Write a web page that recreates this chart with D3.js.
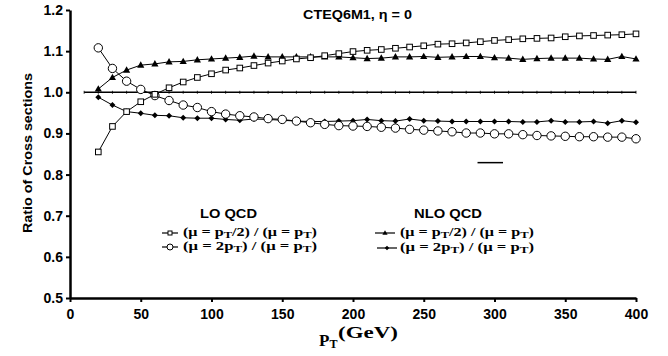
<!DOCTYPE html>
<html><head><meta charset="utf-8">
<script src="https://cdn.jsdelivr.net/npm/d3@7"></script>
<style>body{margin:0;background:#fff}</style>
</head><body>
<svg id="c" width="668" height="356"></svg>
<script>
const pt = [20,30,40,50,60,70,80,90,100,110,120,130,140,150,160,170,180,190,200,210,220,230,240,250,260,270,280,290,300,310,320,330,340,350,360,370,380,390,400];
const loHalf = [0.855,0.917,0.953,0.977,0.995,1.011,1.025,1.036,1.045,1.054,1.059,1.065,1.071,1.076,1.081,1.084,1.089,1.094,1.099,1.102,1.104,1.107,1.110,1.113,1.117,1.118,1.120,1.123,1.126,1.128,1.130,1.131,1.132,1.135,1.137,1.138,1.139,1.140,1.142];
const loTwo = [1.108,1.058,1.027,1.007,0.992,0.980,0.969,0.963,0.953,0.947,0.943,0.940,0.936,0.934,0.930,0.926,0.922,0.919,0.918,0.917,0.915,0.913,0.910,0.908,0.906,0.904,0.901,0.901,0.899,0.899,0.897,0.895,0.894,0.893,0.892,0.892,0.891,0.891,0.887];
const nloHalf = [1.008,1.036,1.054,1.066,1.069,1.074,1.075,1.079,1.081,1.083,1.085,1.088,1.086,1.086,1.086,1.086,1.086,1.086,1.084,1.082,1.083,1.086,1.086,1.087,1.085,1.086,1.087,1.087,1.084,1.083,1.080,1.082,1.083,1.083,1.083,1.081,1.080,1.087,1.081];
const nloTwo = [0.988,0.969,0.953,0.949,0.944,0.943,0.938,0.937,0.937,0.934,0.932,0.935,0.934,0.932,0.930,0.929,0.929,0.930,0.931,0.934,0.931,0.930,0.935,0.931,0.930,0.929,0.929,0.929,0.929,0.929,0.928,0.928,0.931,0.928,0.928,0.929,0.925,0.931,0.927];
const refX = [10,20,30,40,50,60,70,80,90,100,110,120,130,140,150,160,170,180,190,200,210,220,230,240,250,260,270,280,290,300,310,320,330,340,350,360,370,380,390,400];
const refY = 1.0;
const xTicks = [0,50,100,150,200,250,300,350,400];
const yTicks = [0.5,0.6,0.7,0.8,0.9,1.0,1.1,1.2];
const stray = [[288,0.829],[306,0.829]];

const svg = d3.select("#c");
const x = d3.scaleLinear().domain([0,400]).range([70,636]);
const y = d3.scaleLinear().domain([0.5,1.2]).range([298,10]);
const sans = "Arial, 'Liberation Sans', sans-serif";
const serif = "'Times New Roman', 'Liberation Serif', serif";

// axes
const ya = svg.append("g").attr("transform","translate(70,0)")
  .call(d3.axisLeft(y).tickValues(yTicks).tickFormat(d3.format(".1f")).tickSize(4).tickSizeOuter(0));
const xa = svg.append("g").attr("transform","translate(0,298)")
  .call(d3.axisBottom(x).tickValues(xTicks).tickFormat(d3.format("d")).tickSize(4).tickSizeOuter(0));
[ya,xa].forEach(a=>{
  a.select(".domain").attr("stroke","#000").attr("stroke-width",2.5);
  a.selectAll(".tick line").attr("stroke","#000").attr("stroke-width",2);
  a.selectAll(".tick text").attr("font-family",sans).attr("font-weight","bold").attr("font-size",14).attr("fill","#000");
});
ya.selectAll(".tick text").attr("x",-7);
xa.selectAll(".tick text").attr("y",11);

// reference line at 1.0
svg.append("path").datum(refX).attr("fill","none").attr("stroke","#000").attr("stroke-width",1.6)
  .attr("d",d3.line().x(d=>x(d)).y(()=>y(refY)));
svg.append("g").selectAll("line").data(refX).join("line")
  .attr("x1",d=>x(d)).attr("x2",d=>x(d)).attr("y1",y(refY)-1.5).attr("y2",y(refY)+1.5)
  .attr("stroke","#000").attr("stroke-width",0.8);

const line = d3.line().x(d=>x(d[0])).y(d=>y(d[1]));
function series(vals, marker){
  const data = pt.map((p,i)=>[p,vals[i]]);
  svg.append("path").datum(data).attr("fill","none").attr("stroke","#000").attr("stroke-width",1).attr("d",line);
  const g = svg.append("g");
  data.forEach(d=>drawMarker(g, x(d[0]), y(d[1]), marker));
}
function drawMarker(g, cx, cy, m){
  if(m==="sq") g.append("rect").attr("x",cx-2.8).attr("y",cy-2.8).attr("width",5.6).attr("height",5.6).attr("fill","#fff").attr("stroke","#000").attr("stroke-width",1);
  else if(m==="ci") g.append("circle").attr("cx",cx).attr("cy",cy).attr("r",4.2).attr("fill","#fff").attr("stroke","#000").attr("stroke-width",1);
  else if(m==="tri") g.append("path").attr("d",`M${cx},${cy-3.8}L${cx+3.6},${cy+2.6}L${cx-3.6},${cy+2.6}Z`).attr("fill","#000");
  else if(m==="dia") g.append("path").attr("d",`M${cx},${cy-3}L${cx+3},${cy}L${cx},${cy+3}L${cx-3},${cy}Z`).attr("fill","#000");
}
series(nloTwo,"dia");
series(loTwo,"ci");
series(nloHalf,"tri");
series(loHalf,"sq");

// stray segment
svg.append("path").datum(stray).attr("fill","none").attr("stroke","#000").attr("stroke-width",1.5).attr("d",line);

// title
svg.append("text").attr("x",303).attr("y",19)
  .attr("font-family",sans).attr("font-weight","bold").attr("font-size",13).attr("fill","#000")
  .attr("textLength",109).attr("lengthAdjust","spacingAndGlyphs")
  .text("CTEQ6M1, η = 0");

// y label
svg.append("text").attr("transform","translate(32,153) rotate(-90)").attr("text-anchor","middle")
  .attr("font-family",sans).attr("font-weight","bold").attr("font-size",13).attr("fill","#000")
  .attr("textLength",160).attr("lengthAdjust","spacingAndGlyphs")
  .text("Ratio of Cross sections");

// x label
const xl = svg.append("text").attr("x",319).attr("y",346)
  .attr("font-family",serif).attr("font-weight","bold").attr("font-size",17).attr("fill","#000");
xl.append("tspan").text("P");
xl.append("tspan").attr("font-size",12).attr("dy",2).text("T");
svg.append("text").attr("x",338).attr("y",338)
  .attr("font-family",serif).attr("font-weight","bold").attr("font-size",16).attr("fill","#000")
  .attr("textLength",60).attr("lengthAdjust","spacingAndGlyphs").text("(GeV)");

// legend
function header(xp, txt, w){
  svg.append("text").attr("x",xp).attr("y",218).attr("font-family",sans).attr("font-weight","bold")
    .attr("font-size",13.5).attr("fill","#000").attr("textLength",w).attr("lengthAdjust","spacingAndGlyphs").text(txt);
}
header(200,"LO QCD",57); header(414,"NLO QCD",68);
function legendEntry(x1,x2,tx,yy,m,half){
  svg.append("line").attr("x1",x1).attr("x2",x2).attr("y1",yy).attr("y2",yy).attr("stroke","#000").attr("stroke-width",1.2);
  const g = svg.append("g");
  const cx=(x1+x2)/2;
  if(m==="sq") g.append("rect").attr("x",cx-2).attr("y",yy-2).attr("width",4).attr("height",4).attr("fill","#fff").attr("stroke","#000").attr("stroke-width",1);
  else if(m==="ci") g.append("circle").attr("cx",cx).attr("cy",yy).attr("r",3).attr("fill","#fff").attr("stroke","#000").attr("stroke-width",1);
  else if(m==="tri") g.append("path").attr("d",`M${cx},${yy-2.8}L${cx+2.6},${yy+1.8}L${cx-2.6},${yy+1.8}Z`).attr("fill","#000");
  else g.append("path").attr("d",`M${cx},${yy-2.3}L${cx+2.3},${yy}L${cx},${yy+2.3}L${cx-2.3},${yy}Z`).attr("fill","#000");
  const tt = svg.append("text").attr("x",tx).attr("y",yy+3).attr("font-family",serif).attr("font-weight","bold")
    .attr("font-size",11.5).attr("fill","#000").attr("textLength",134).attr("lengthAdjust","spacingAndGlyphs");
  if(half){
    tt.append("tspan").text("(μ = p");
    tt.append("tspan").attr("font-size",9).attr("dy",2).text("T");
    tt.append("tspan").attr("dy",-2).text("/2) / (μ = p");
  } else {
    tt.append("tspan").text("(μ = 2p");
    tt.append("tspan").attr("font-size",9).attr("dy",2).text("T");
    tt.append("tspan").attr("dy",-2).text(") / (μ = p");
  }
  tt.append("tspan").attr("font-size",9).attr("dy",2).text("T");
  tt.append("tspan").attr("dy",-2).text(")");
}
legendEntry(162,178,183,233,"sq",true);
legendEntry(162,178,183,247,"ci",false);
legendEntry(375,395,400,233,"tri",true);
legendEntry(377,397,400,248,"dia",false);
</script>
</body></html>
